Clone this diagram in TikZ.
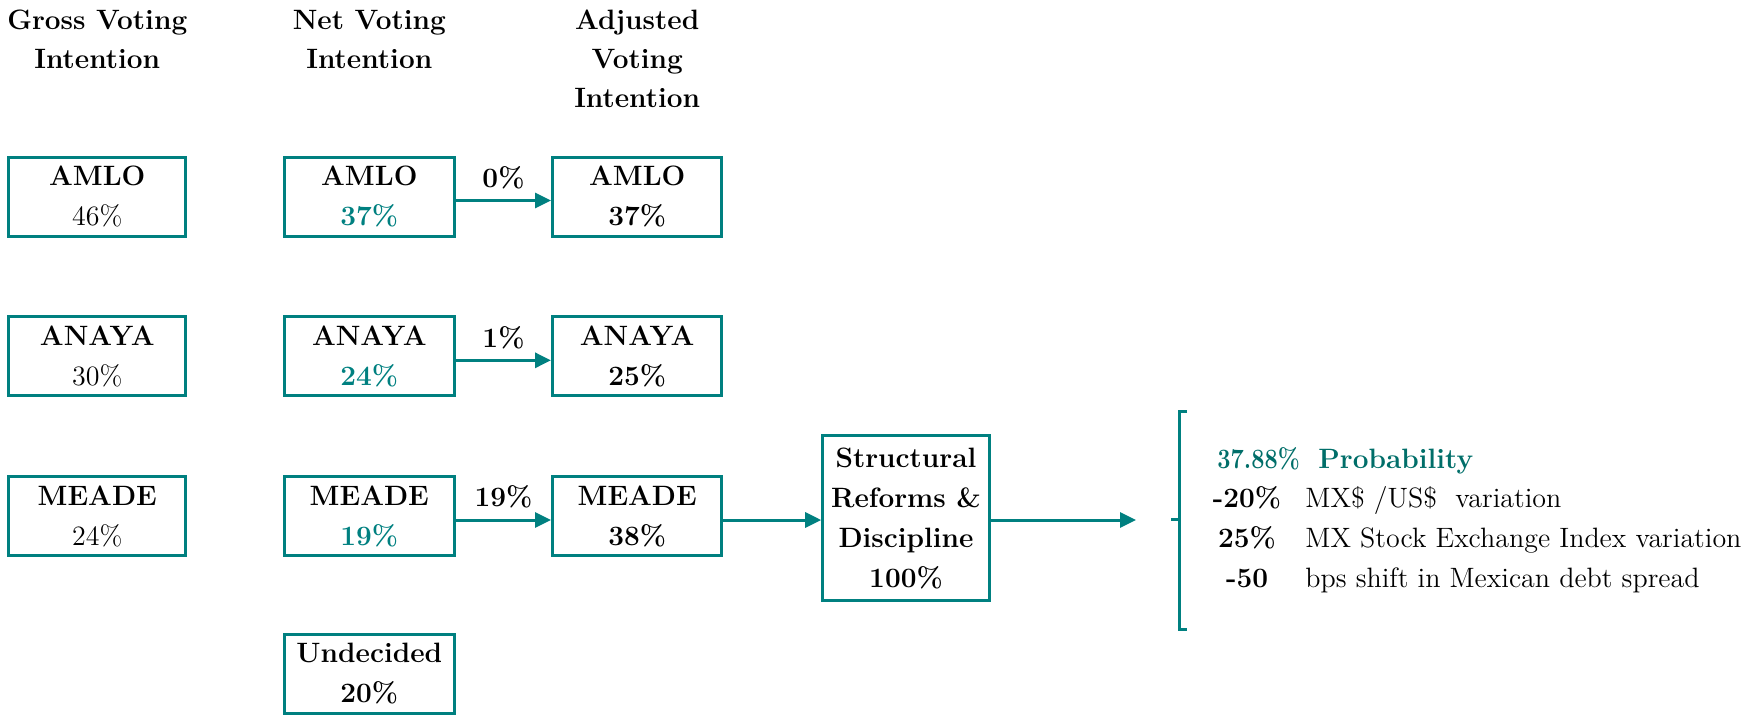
\documentclass[tikz,border=0pt]{standalone}
\usepackage{graphicx}
\usetikzlibrary{arrows.meta}
\definecolor{tealc}{RGB}{0,128,128}
\definecolor{tealdark}{RGB}{0,110,105}
\begin{document}
\begin{tikzpicture}[x=0.5pt,y=-0.5pt,
  txt/.style={font=\fontsize{14}{20}\selectfont, align=center, inner sep=0pt},
  box/.style={txt, draw=tealc, line width=1.5pt, minimum height=39.5pt},
  gbox/.style={box, minimum width=88.3pt},
  nbox/.style={box, minimum width=84.7pt},
  arr/.style={draw=tealc, line width=1.5pt, -{Triangle[length=8pt,width=7.5pt]}},
  lab/.style={txt, anchor=base},
  rlab/.style={txt, anchor=base west}
]
\useasboundingbox (0,0) rectangle (1743,714);

% headers
\node[txt, font=\fontsize{14}{19.5}\selectfont\bfseries] (h1) at (97.25,39.5) {Gross Voting\\Intention};
\node[txt, font=\fontsize{14}{19.5}\selectfont\bfseries] (h2) at (369.3,39.5) {Net Voting\\Intention};
\node[txt, font=\fontsize{14}{19.5}\selectfont\bfseries] (h3) at (637.2,59) {Adjusted\\Voting\\Intention};

% gross column
\node[gbox] (g1) at (97.25,196.5) {\textbf{AMLO}\\46\%};
\node[gbox] (g2) at (97.25,356.3) {\textbf{ANAYA}\\30\%};
\node[gbox] (g3) at (97.25,516) {\textbf{MEADE}\\24\%};

% net column
\node[nbox] (n1) at (369.3,196.5) {\textbf{AMLO}\\\textcolor{tealc}{\textbf{37\%}}};
\node[nbox] (n2) at (369.3,356.3) {\textbf{ANAYA}\\\textcolor{tealc}{\textbf{24\%}}};
\node[nbox] (n3) at (369.3,516) {\textbf{MEADE}\\\textcolor{tealc}{\textbf{19\%}}};
\node[nbox] (n4) at (369.3,674) {\textbf{Undecided}\\\textbf{20\%}};

% adjusted column
\node[nbox] (a1) at (637.2,196.5) {\textbf{AMLO}\\\textbf{37\%}};
\node[nbox] (a2) at (637.2,356.3) {\textbf{ANAYA}\\\textbf{25\%}};
\node[nbox] (a3) at (637.2,516) {\textbf{MEADE}\\\textbf{38\%}};

% structural box
\node[box, minimum width=83.3pt, minimum height=82.3pt, font=\fontsize{14}{20}\selectfont\bfseries] (s) at (906,518)
  {Structural\\Reforms \&\\Discipline\\100\%};

% arrows
\draw[arr] ([yshift=-2pt]n1.east) -- ([yshift=-2pt]a1.west);
\draw[arr] ([yshift=-2pt]n2.east) -- ([yshift=-2pt]a2.west);
\draw[arr] ([yshift=-2pt]n3.east) -- ([yshift=-2pt]a3.west);
\draw[arr] ([yshift=-2pt]a3.east) -- ([yshift=-1pt]s.west);
\coordinate (end) at (1136,520);
\draw[arr] ([yshift=-1pt]s.east) -- (end);

% arrow labels
\node[lab, font=\fontsize{14}{20}\selectfont\bfseries] (l1) at (503.5,187) {0\%};
\node[lab, font=\fontsize{14}{20}\selectfont\bfseries] (l2) at (503.5,347) {1\%};
\node[lab, font=\fontsize{14}{20}\selectfont\bfseries] (l3) at (503.5,506.5) {19\%};

% bracket
\draw[tealc, line width=1.5pt] (1187,411.7) -- (1179.3,411.7) -- (1179.3,629) -- (1187,629);
\draw[tealc, line width=1.5pt] (1179.3,519.3) -- (1170.7,519.3);

% right text
\node[rlab, text=tealdark, font=\fontsize{14}{20}\selectfont\bfseries] (p1) at (1217,468.5) {\scalebox{0.84}[1]{37.88\%}};
\node[rlab, text=tealdark, font=\fontsize{14}{20}\selectfont\bfseries] (p2) at (1318,468.5) {Probability};
\node[lab, font=\fontsize{14}{20}\selectfont\bfseries] (v1) at (1247,507.8) {-20\%};
\node[rlab] (d1) at (1305,507.8) {MX\$ /US\$~ variation};
\node[lab, font=\fontsize{14}{20}\selectfont\bfseries] (v2) at (1247,547.8) {25\%};
\node[rlab] (d2) at (1305,547.8) {MX Stock Exchange Index variation};
\node[lab, font=\fontsize{14}{20}\selectfont\bfseries] (v3) at (1247,587.8) {-50};
\node[rlab] (d3) at (1305,587.8) {bps shift in Mexican debt spread};
\end{tikzpicture}
\end{document}
